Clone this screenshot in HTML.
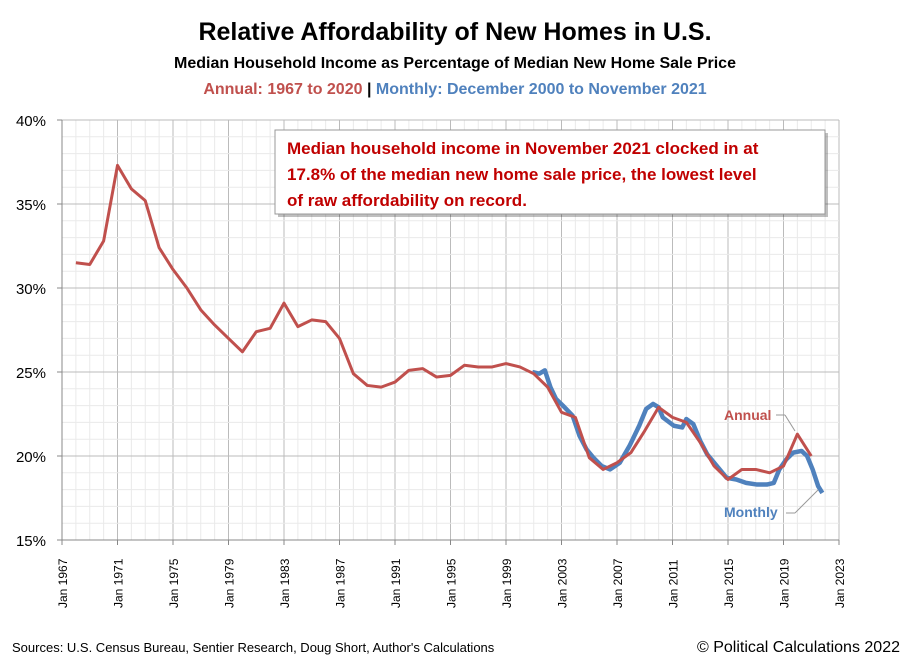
<!DOCTYPE html>
<html><head><meta charset="utf-8"><style>
body{margin:0;background:#fff;font-family:"Liberation Sans",sans-serif;}
svg text{font-family:"Liberation Sans",sans-serif;}
</style></head><body>
<svg id="c" width="910" height="662">
<text x="455" y="40" text-anchor="middle" font-size="25" font-weight="bold">Relative Affordability of New Homes in U.S.</text>
<text x="455" y="68" text-anchor="middle" font-size="16" font-weight="bold">Median Household Income as Percentage of Median New Home Sale Price</text>
<text x="455" y="94" text-anchor="middle" font-size="16" font-weight="bold"><tspan fill="#c0504d">Annual: 1967 to 2020</tspan><tspan fill="#000"> | </tspan><tspan fill="#4f81bd">Monthly: December 2000 to November 2021</tspan></text>
<g id="grid"></g>
<g id="axes"></g>
<g id="series"></g>
<g>
<rect x="278" y="133" width="550" height="84" fill="#000" opacity="0.25"/>
<rect x="275" y="130" width="550" height="84" fill="#fff" stroke="#999"/>
<text font-size="17" font-weight="bold" fill="#c00000"><tspan x="287" y="154">Median household income in November 2021 clocked in at</tspan><tspan x="287" y="180">17.8% of the median new home sale price, the lowest level</tspan><tspan x="287" y="206">of raw affordability on record.</tspan></text>
</g>
<text x="724" y="420" font-size="14" font-weight="bold" fill="#c0504d">Annual</text>
<line x1="776" y1="415" x2="785" y2="415" stroke="#999"/>
<line x1="785" y1="415" x2="795" y2="431" stroke="#999"/>
<text x="724" y="517" font-size="14" font-weight="bold" fill="#4f81bd">Monthly</text>
<line x1="786" y1="513" x2="795" y2="513" stroke="#999"/>
<line x1="795" y1="513" x2="818" y2="490" stroke="#999"/>
<text x="12" y="652" font-size="13">Sources: U.S. Census Bureau, Sentier Research, Doug Short, Author's Calculations</text>
<text x="900" y="652" text-anchor="end" font-size="16">© Political Calculations 2022</text>
</svg>
<script>
const annualYears=[];for(let y=1968;y<=2021;y++)annualYears.push(y);
const annualValues=[31.5,31.4,32.8,37.3,35.9,35.2,32.4,31.1,30.0,28.7,27.8,27.0,26.2,27.4,27.6,29.1,27.7,28.1,28.0,27.0,24.9,24.2,24.1,24.4,25.1,25.2,24.7,24.8,25.4,25.3,25.3,25.5,25.3,24.9,24.1,22.6,22.3,19.9,19.2,19.6,20.2,21.5,22.9,22.3,22.0,20.8,19.4,18.6,19.2,19.2,19.0,19.4,21.3,20.0];
const monthlyDates=[2000.9,2001.4,2001.8,2002.2,2002.6,2003.1,2003.8,2004.3,2004.8,2005.3,2005.9,2006.5,2007.2,2007.9,2008.6,2009.1,2009.6,2010.0,2010.3,2011.1,2011.7,2012.0,2012.5,2013.0,2013.5,2014.2,2014.9,2015.6,2016.3,2017.1,2017.8,2018.3,2018.7,2019.2,2019.7,2020.3,2020.7,2021.1,2021.5,2021.8];
const monthlyValues=[25.0,24.9,25.1,24.1,23.4,23.0,22.4,21.2,20.4,19.9,19.4,19.2,19.6,20.6,21.8,22.8,23.1,22.9,22.3,21.8,21.7,22.2,21.9,20.9,20.1,19.4,18.7,18.6,18.4,18.3,18.3,18.4,19.2,19.8,20.2,20.3,20.0,19.2,18.2,17.8];
const yTicks=[15,20,25,30,35,40];
const xTicks=[1967,1971,1975,1979,1983,1987,1991,1995,1999,2003,2007,2011,2015,2019,2023];
const X0=62,X1=839,Y0=540,Y1=120;
const xs=y=>X0+(y-1967)/(2023-1967)*(X1-X0);
const ys=v=>Y0-(v-15)/(40-15)*(Y0-Y1);
const NS="http://www.w3.org/2000/svg";
function mk(t,a,p){const e=document.createElementNS(NS,t);for(const k in a)e.setAttribute(k,a[k]);p.appendChild(e);return e;}
const grid=document.getElementById('grid'),axes=document.getElementById('axes'),ser=document.getElementById('series');
for(let y=1967;y<=2023;y++){const l=mk('line',{x1:xs(y),x2:xs(y),y1:Y1,y2:Y0,stroke:(y-1967)%4==0?'#bbb':'#eaeaea'},grid);

}
for(let v=15;v<=40;v++){const l=mk('line',{x1:X0,x2:X1,y1:ys(v),y2:ys(v),stroke:v%5==0?'#bbb':'#eaeaea'},grid);

}
const xa=mk('line',{x1:X0,x2:X1,y1:Y0,y2:Y0,stroke:'#888'},axes);


const ya=mk('line',{x1:X0,x2:X0,y1:Y1,y2:Y0,stroke:'#888'},axes);


yTicks.forEach(v=>{const t=mk('text',{x:X0-16,y:ys(v)+6,'text-anchor':'end','font-size':'15'},axes);t.textContent=v+'%';


mk('line',{x1:X0-5,x2:X0,y1:ys(v),y2:ys(v),stroke:'#888'},axes);});
xTicks.forEach(y=>{const x=xs(y);mk('line',{x1:x,x2:x,y1:Y0,y2:Y0+5,stroke:'#888'},axes);
const t=mk('text',{x:0,y:0,'font-size':'12',transform:`translate(${x+5},${Y0+68}) rotate(-90)`},axes);t.textContent='Jan '+y;

});
const mp=mk('polyline',{points:monthlyDates.map((d,i)=>xs(d)+','+ys(monthlyValues[i])).join(' '),fill:'none',stroke:'#4f81bd','stroke-width':'4.5','stroke-linejoin':'round'},ser);


const ap=mk('polyline',{points:annualYears.map((y,i)=>xs(y)+','+ys(annualValues[i])).join(' '),fill:'none',stroke:'#c0504d','stroke-width':'3','stroke-linejoin':'round'},ser);


</script>
</body></html>
